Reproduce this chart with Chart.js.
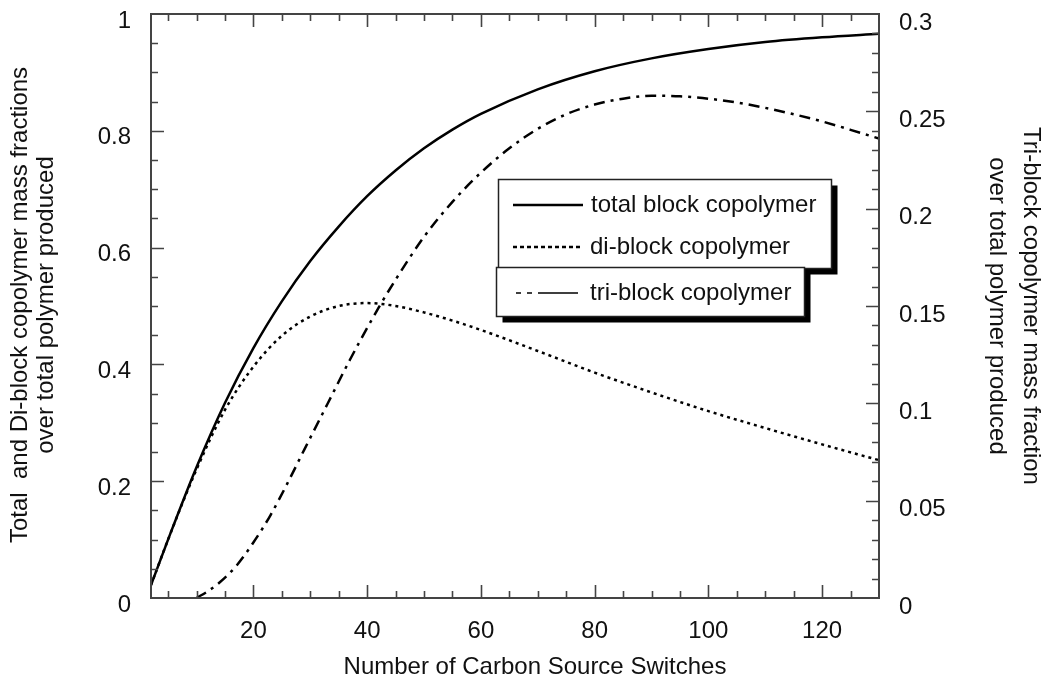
<!DOCTYPE html>
<html>
<head>
<meta charset="utf-8">
<script src="https://cdn.jsdelivr.net/npm/chart.js@4.4.1/dist/chart.umd.min.js"></script>
<style>
  body { margin: 0; background: #fff; }
  #chart { display: block; }
</style>
</head>
<body>
<canvas id="chart" width="1044" height="681"></canvas>
<script>
// values
const totalX = [2, 5, 10, 15, 20, 25, 30, 35, 40, 45, 50, 55, 60, 70, 80, 90, 100, 110, 120, 130];
const totalY = [0.022, 0.100, 0.224, 0.334, 0.428, 0.508, 0.577, 0.636, 0.688, 0.732, 0.770, 0.802, 0.829, 0.871, 0.902, 0.924, 0.940, 0.952, 0.960, 0.966];

const diX = [2, 5, 10, 15, 20, 25, 30, 35, 40, 45, 50, 55, 60, 70, 80, 90, 100, 110, 120, 130];
const diY = [0.022, 0.100, 0.220, 0.322, 0.396, 0.449, 0.482, 0.500, 0.505, 0.500, 0.489, 0.475, 0.459, 0.423, 0.386, 0.352, 0.320, 0.291, 0.263, 0.236];

const triX = [10, 12, 14, 17, 20, 23, 26, 29, 33, 37, 42, 45, 50, 55, 60, 65, 70, 75, 80, 85, 90, 95, 100, 105, 110, 115, 120, 125, 130];
const triY = [0, 0.0035, 0.0078, 0.0165, 0.0285, 0.0425, 0.059, 0.0765, 0.0995, 0.1225, 0.149, 0.1635, 0.1855, 0.2035, 0.2185, 0.231, 0.241, 0.2485, 0.2535, 0.2565, 0.258, 0.2577, 0.2565, 0.2545, 0.2518, 0.2485, 0.2448, 0.2405, 0.236];

const xTicks = [20, 40, 60, 80, 100, 120];
const leftTicks = [0, 0.2, 0.4, 0.6, 0.8, 1];
const leftTickLabels = ['0', '0.2', '0.4', '0.6', '0.8', '1'];
const rightTicks = [0, 0.05, 0.1, 0.15, 0.2, 0.25, 0.3];
const rightTickLabels = ['0', '0.05', '0.1', '0.15', '0.2', '0.25', '0.3'];

const seriesNames = ['total block copolymer', 'di-block copolymer', 'tri-block copolymer'];
const xTitle = 'Number of Carbon Source Switches';
const leftTitle = ['Total  and Di-block copolymer mass fractions', 'over total polymer produced'];
const rightTitle = ['Tri-block copolymer mass fraction', 'over total polymer produced'];

const FONT = '"Liberation Sans", Arial, sans-serif';
const INK = '#111';
const AXIS = '#444';

const toPoints = (xs, ys) => xs.map((x, i) => ({ x, y: ys[i] }));

// drop the label overflow padding so the plot box sits where the figure has it
const noPad = s => { s.paddingTop = 0; s.paddingBottom = 0; s.paddingLeft = 0; s.paddingRight = 0; };

// frame, inward tick marks, two-box legend and axis titles
const decorations = {
  id: 'decorations',
  afterDraw(chart) {
    const { ctx, chartArea: a, scales } = chart;
    const xs = scales.x, yl = scales.y, yr = scales.y2;
    ctx.save();
    ctx.strokeStyle = AXIS;
    ctx.lineWidth = 2;
    ctx.strokeRect(a.left, a.top, a.right - a.left, a.bottom - a.top);

    ctx.lineWidth = 1.6;
    ctx.beginPath();
    for (let v = 5; v < 130; v += 5) {
      const px = Math.round(xs.getPixelForValue(v)) + 0.5;
      const len = v % 20 === 0 ? 13 : 7;
      ctx.moveTo(px, a.bottom); ctx.lineTo(px, a.bottom - len);
      ctx.moveTo(px, a.top); ctx.lineTo(px, a.top + len);
    }
    for (let i = 1; i < 20; i++) {
      const py = Math.round(yl.getPixelForValue(i * 0.05)) + 0.5;
      const len = i % 4 === 0 ? 13 : 7;
      ctx.moveTo(a.left, py); ctx.lineTo(a.left + len, py);
    }
    for (let i = 1; i < 30; i++) {
      const py = Math.round(yr.getPixelForValue(i * 0.01)) + 0.5;
      const len = i % 5 === 0 ? 13 : 7;
      ctx.moveTo(a.right, py); ctx.lineTo(a.right - len, py);
    }
    ctx.stroke();

    // legend boxes with drop shadows
    const box = (x, y, w, h) => {
      ctx.fillStyle = '#000';
      ctx.fillRect(x + 6, y + 6, w, h);
      ctx.fillStyle = '#fff';
      ctx.fillRect(x, y, w, h);
      ctx.strokeStyle = '#222';
      ctx.lineWidth = 1.5;
      ctx.strokeRect(x, y, w, h);
    };
    box(498.5, 179.5, 333, 89);
    box(496.5, 267.5, 308, 49);

    const sample = (y, dash, x0, x1) => {
      ctx.strokeStyle = '#000';
      ctx.setLineDash(dash);
      ctx.beginPath();
      ctx.moveTo(x0, y); ctx.lineTo(x1, y);
      ctx.stroke();
    };
    ctx.lineWidth = 2.5;
    sample(205, [], 513, 583);
    sample(247, [4, 3], 513, 581);
    ctx.lineWidth = 1.5;
    sample(293, [5, 6, 5, 6, 42], 516, 578);
    ctx.setLineDash([]);

    ctx.fillStyle = INK;
    ctx.font = '24px ' + FONT;
    ctx.textBaseline = 'middle';
    ctx.textAlign = 'left';
    ctx.fillText(seriesNames[0], 591, 205);
    ctx.fillText(seriesNames[1], 590, 247);
    ctx.fillText(seriesNames[2], 590, 293);

    // axis titles
    ctx.textAlign = 'center';
    ctx.fillText(xTitle, 535, 667);

    ctx.save();
    ctx.translate(20, 305);
    ctx.rotate(-Math.PI / 2);
    ctx.fillText(leftTitle[0], 0, 0);
    ctx.fillText(leftTitle[1], 0, 26);
    ctx.restore();

    ctx.save();
    ctx.translate(1031, 306);
    ctx.rotate(Math.PI / 2);
    ctx.fillText(rightTitle[0], 0, 0);
    ctx.fillText(rightTitle[1], 0, 34);
    ctx.restore();

    ctx.restore();
  }
};

const tickFont = { family: FONT, size: 24 };

new Chart(document.getElementById('chart').getContext('2d'), {
  type: 'line',
  data: {
    datasets: [
      {
        label: seriesNames[0],
        data: toPoints(totalX, totalY),
        borderColor: '#000',
        borderWidth: 2.5,
        pointRadius: 0,
        cubicInterpolationMode: 'monotone',
        yAxisID: 'y'
      },
      {
        label: seriesNames[1],
        data: toPoints(diX, diY),
        borderColor: '#000',
        borderWidth: 2.5,
        borderDash: [3, 4],
        pointRadius: 0,
        cubicInterpolationMode: 'monotone',
        yAxisID: 'y'
      },
      {
        label: seriesNames[2],
        data: toPoints(triX, triY),
        borderColor: '#000',
        borderWidth: 2.5,
        borderDash: [11, 6, 3, 6],
        pointRadius: 0,
        cubicInterpolationMode: 'monotone',
        yAxisID: 'y2'
      }
    ]
  },
  options: {
    responsive: false,
    animation: false,
    devicePixelRatio: 1,
    layout: { padding: { top: 14, left: 0, right: 0, bottom: 0 } },
    plugins: { legend: { display: false }, tooltip: { enabled: false } },
    scales: {
      x: {
        type: 'linear',
        min: 2,
        max: 130,
        afterBuildTicks: s => { s.ticks = xTicks.map(v => ({ value: v })); },
        afterFit: s => { s.height = 83; noPad(s); },
        grid: { display: false, drawTicks: false },
        border: { display: false },
        ticks: { font: tickFont, color: INK, padding: 19, maxRotation: 0 }
      },
      y: {
        position: 'left',
        min: 0,
        max: 1,
        afterBuildTicks: s => { s.ticks = leftTicks.map(v => ({ value: v })); },
        afterFit: s => { s.width = 151; noPad(s); },
        grid: { display: false, drawTicks: false },
        border: { display: false },
        ticks: {
          font: tickFont, color: INK, padding: 20, labelOffset: 7,
          callback: (v, i) => leftTickLabels[i]
        }
      },
      y2: {
        position: 'right',
        min: 0,
        max: 0.3,
        afterBuildTicks: s => { s.ticks = rightTicks.map(v => ({ value: v })); },
        afterFit: s => { s.width = 165; noPad(s); },
        grid: { display: false, drawTicks: false },
        border: { display: false },
        ticks: {
          font: tickFont, color: INK, padding: 20, labelOffset: 9,
          callback: (v, i) => rightTickLabels[i]
        }
      }
    }
  },
  plugins: [decorations]
});
</script>
</body>
</html>
